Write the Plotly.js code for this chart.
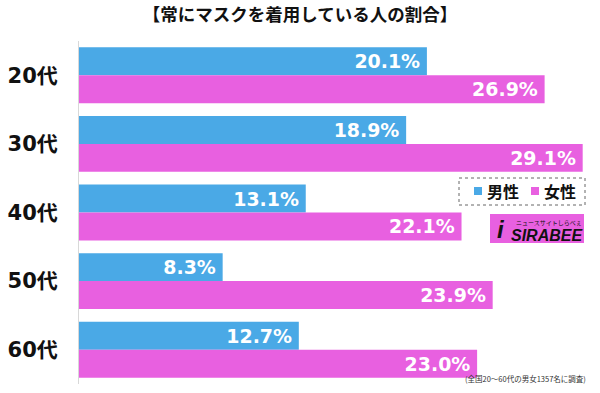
<!DOCTYPE html>
<html><head><meta charset="utf-8">
<script src="https://cdn.plot.ly/plotly-3.0.1.min.js"></script>
<style>body{margin:0;background:#fff}#c{width:600px;height:393px}</style>
</head><body><div id="c"></div>
<script>
const categories = ["20代","30代","40代","50代","60代"];
const maleValues = [20.1, 18.9, 13.1, 8.3, 12.7];
const femaleValues = [26.9, 29.1, 22.1, 23.9, 23.0];
const seriesNames = ["男性","女性"];
const titleText = "【常にマスクを着用している人の割合】";
const noteText = "(全国20〜60代の男女1357名に調査)";

const jp = '"Noto Sans CJK JP", "Noto Sans", sans-serif';
const wide = '"DejaVu Sans", "Noto Sans CJK JP", sans-serif';
const num = '"Liberation Sans", Arial, sans-serif';
const colors = ["#4aa9e6", "#e860e0"];

function trace(vals, name, color){
  return {
    type: "bar", orientation: "h", y: categories, x: vals, name: name,
    marker: {color: color},
    text: vals.map(v => v.toFixed(1) + "%\u2009"),
    textposition: "inside", insidetextanchor: "end",
    textfont: {family: wide, size: 19, color: "#fff", weight: "bold"},
    hoverinfo: "skip", showlegend: false
  };
}
const data = [trace(maleValues, seriesNames[0], colors[0]), trace(femaleValues, seriesNames[1], colors[1])];

// paper coordinate helpers (plot area: x 79..600, y 41..384)
const px = v => (v - 79) / 521;
const py = v => (384 - v) / 343;

const layout = {
  width: 600, height: 393,
  margin: {l: 79, r: 0, t: 41, b: 9},
  paper_bgcolor: "#fff", plot_bgcolor: "#fff",
  barmode: "group", bargap: 0.185, bargroupgap: 0,
  title: {text: "<b>" + titleText + "</b>", font: {family: jp, size: 17.5, color: "#111"}, x: 0.5, xanchor: "center", y: 0.962, yanchor: "middle"},
  xaxis: {range: [0, 30.1], showgrid: false, zeroline: false, showticklabels: false, showline: false, fixedrange: true},
  yaxis: {autorange: "reversed", showgrid: false, zeroline: false, showline: true, linecolor: "#d8d8d8", linewidth: 1,
          ticks: "", ticklabelstandoff: 16,
          tickfont: {family: wide, size: 21, color: "#111", weight: "bold"}},
  showlegend: false,
  shapes: [
    {type: "rect", xref: "paper", yref: "paper", x0: px(459), x1: px(585), y0: py(205), y1: py(178),
     line: {color: "#666", width: 1, dash: "dot"}, fillcolor: "rgba(0,0,0,0)"},
    {type: "rect", xref: "paper", yref: "paper", x0: px(474), x1: px(482), y0: py(195), y1: py(187),
     line: {width: 0}, fillcolor: colors[0]},
    {type: "rect", xref: "paper", yref: "paper", x0: px(531), x1: px(539), y0: py(195), y1: py(187),
     line: {width: 0}, fillcolor: colors[1]},
    {type: "rect", xref: "paper", yref: "paper", x0: px(490), x1: px(584), y0: py(243), y1: py(214),
     line: {width: 0}, fillcolor: "#e860e0"}
  ],
  annotations: [
    {xref: "paper", yref: "paper", x: px(485), y: py(191), xanchor: "left", yanchor: "middle",
     text: "<b>" + seriesNames[0] + "</b>", showarrow: false, font: {family: jp, size: 16, color: "#111"}},
    {xref: "paper", yref: "paper", x: px(542), y: py(191), xanchor: "left", yanchor: "middle",
     text: "<b>" + seriesNames[1] + "</b>", showarrow: false, font: {family: jp, size: 16, color: "#111"}},
    {xref: "paper", yref: "paper", x: px(585), y: py(235), xanchor: "right", yanchor: "middle",
     text: "<b><i>SIRABEE</i></b>", showarrow: false, font: {family: num, size: 16, color: "#111"}},
    {xref: "paper", yref: "paper", x: px(584), y: py(222), xanchor: "right", yanchor: "middle",
     text: "ニュースサイトしらべぇ", showarrow: false, font: {family: jp, size: 6, color: "#111"}},
    {xref: "paper", yref: "paper", x: px(501), y: py(229), xanchor: "center", yanchor: "middle",
     text: "<b><i>i</i></b>", showarrow: false, font: {family: num, size: 24, color: "#111"}},
    {xref: "paper", yref: "paper", x: px(588), y: py(378), xanchor: "right", yanchor: "middle",
     text: noteText, showarrow: false, font: {family: jp, size: 7.5, color: "#333"}}
  ]
};
Plotly.newPlot("c", data, layout, {displayModeBar: false, staticPlot: true});
</script></body></html>
